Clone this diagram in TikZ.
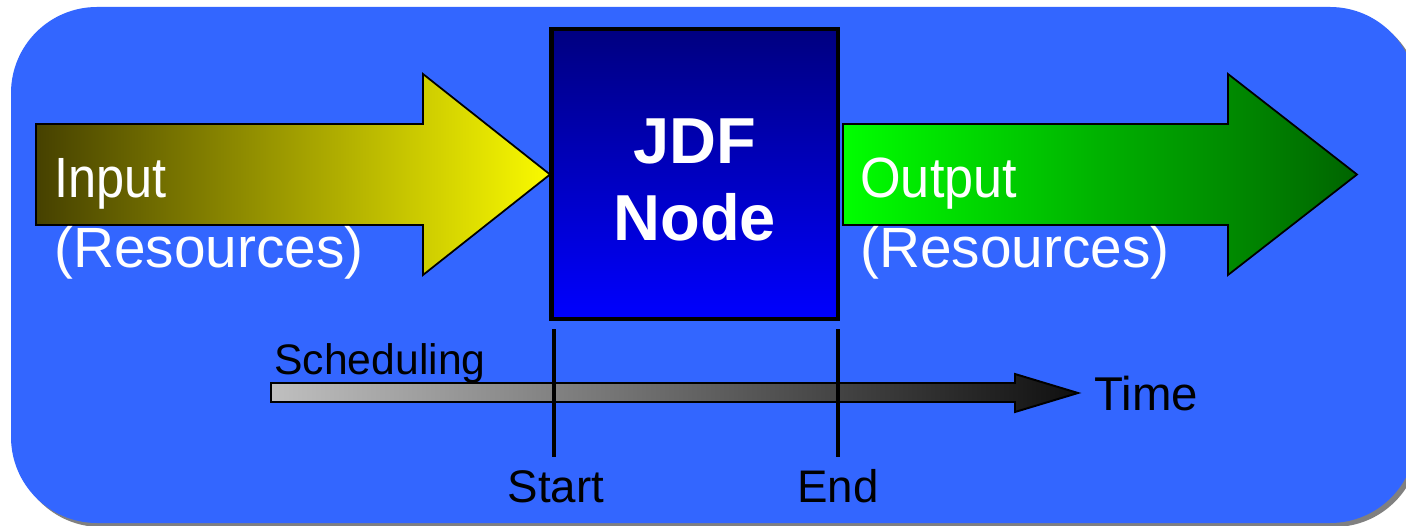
\documentclass[tikz,border=0pt]{standalone}
\usepackage{fontspec}
\setmainfont{Liberation Sans}
\usetikzlibrary{positioning,calc}
\definecolor{panelblue}{RGB}{51,102,255}
\definecolor{oliveend}{RGB}{70,65,0}
\definecolor{lemon}{RGB}{250,250,0}
\definecolor{limegreen}{RGB}{0,255,0}
\definecolor{forestend}{RGB}{0,100,0}
\definecolor{navyend}{RGB}{0,0,128}

\begin{document}
\begin{tikzpicture}[
  x=0.02cm, y=-0.02cm,
  flow/.style={draw=black, line width=1pt},
  jdfbox/.style={draw=black, line width=2.3pt, outer sep=0pt, inner sep=0pt,
    top color=navyend, bottom color=blue, minimum width=5.73cm, minimum height=5.8cm},
  jdftext/.style={text=white, align=center, inner sep=0pt, font=\fontsize{37}{43.7}\selectfont\bfseries},
  restext/.style={text=white, inner sep=0pt, anchor=base west, font=\fontsize{32.3}{38}\selectfont},
  timetext/.style={inner sep=0pt, font=\fontsize{26}{30}\selectfont},
  tick/.style={line width=1.9pt}
]
\useasboundingbox (0,0) rectangle (1406,526);

% panel and its shadow
\fill[black!50, rounded corners=1.72cm] (15,11) rectangle (1420,527);
\fill[panelblue, rounded corners=1.72cm] (11,7) rectangle (1416,523);

% input / output arrows
\shadedraw[flow, left color=oliveend, right color=lemon]
  (36,124) -- (423,124) -- (423,74) -- (550,174.5) -- (423,275) -- (423,225) -- (36,225) -- cycle;
\shadedraw[flow, left color=limegreen, right color=forestend]
  (843,124) -- (1228,124) -- (1228,74) -- (1357,174.5) -- (1228,275) -- (1228,225) -- (843,225) -- cycle;

\node[jdfbox] (jdf) at (694.7,174.4) {};
\node[jdftext] (jdflabel) at ([yshift=-0.11cm]jdf.center) {JDF\\Node};

\node[restext] (intitle) at (54,198) {\scalebox{0.89}[1]{Input}};
\node[restext] (inres) at ([yshift=-1.4cm]intitle.base west) {(Resources)};
\node[restext] (outtitle) at (860,198) {\scalebox{0.92}[1]{Output}};
\node[restext] (outres) at ([yshift=-1.4cm]outtitle.base west) {(Resources)};

% time line
\shadedraw[line width=1.1pt, left color=black!25, right color=black!94]
  (271,383) -- (1015,383) -- (1015,374) -- (1078,393) coordinate (timetip)
  -- (1015,412) -- (1015,402) -- (271,402) -- cycle;
\node[timetext, anchor=base west, font=\fontsize{24.3}{30}\selectfont] (sched) at (274,375) {Scheduling};
\node[timetext, anchor=base west, font=\fontsize{27}{32}\selectfont] (time) at (1094,411) {Time};

\draw[tick] ([xshift=1.5pt,yshift=-0.2cm]jdf.south west) -- ++(0,128) coordinate (startbot);
\draw[tick] ([yshift=-0.2cm]jdf.south east) -- ++(0,128) coordinate (endbot);
\node[timetext, anchor=base] (start) at ([xshift=1pt,yshift=-0.91cm]startbot) {Start};
\node[timetext, anchor=base] (end) at ([yshift=-0.91cm]endbot) {End};
\end{tikzpicture}
\end{document}
